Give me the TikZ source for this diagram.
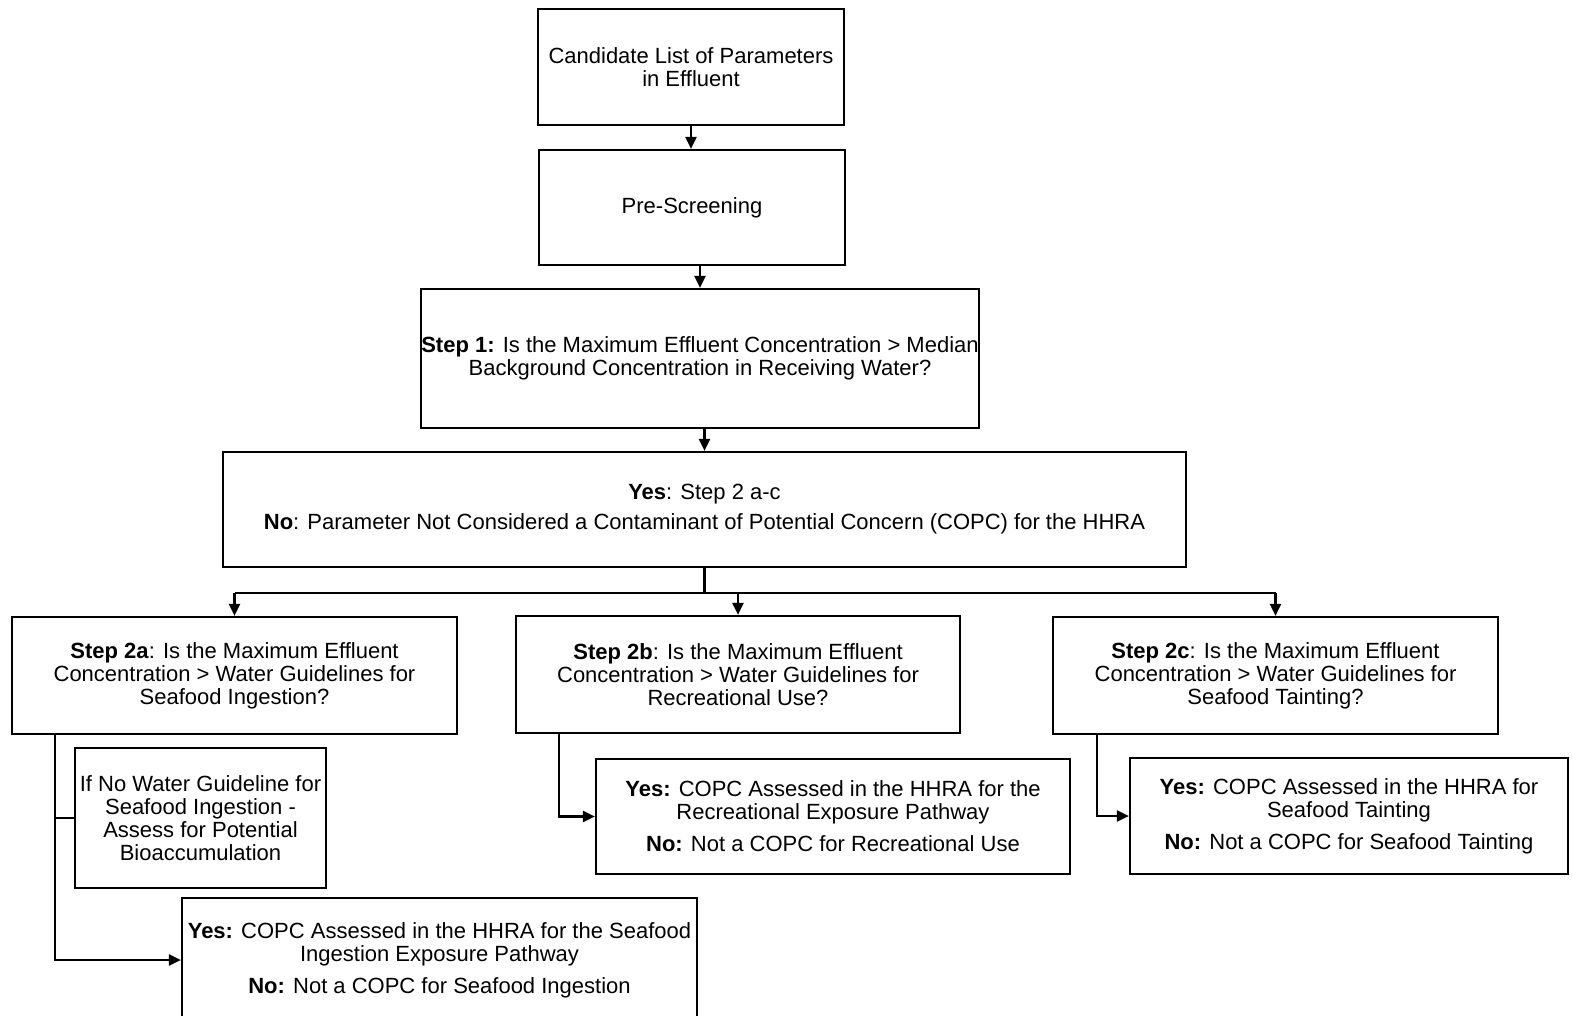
\documentclass[tikz,border=0pt]{standalone}
\usepackage{fontspec}
\setmainfont{Liberation Sans}
\usetikzlibrary{arrows.meta,calc,positioning}

\tikzset{
  box/.style={draw,line width=2.2pt,align=center,inner sep=0pt,font=\fontsize{22}{23}\selectfont},
  flow/.style={line width=2.2pt,-{Triangle[length=12pt,width=11pt]}},
  link/.style={line width=2.2pt}
}

\begin{document}
\begin{tikzpicture}[x=1pt,y=-1pt]
            \useasboundingbox(0,0)rectangle(1572,1016);
            % top chain
            \node[box,minimum width=306pt,minimum height=116pt](cand) at (691,67){Candidate List of Parameters\\in Effluent};
            \node[box,minimum width=306pt,minimum height=115pt](pre) at (692,207.5){Pre-Screening};
            \node[box,minimum width=556pt,minimum height=139pt](stepone) at (700,358.5){\textbf{Step 1:} Is the Maximum Effluent Concentration > Median\\Background Concentration in Receiving Water?};
            \node[box,minimum width=963pt,minimum height=115pt](yesno) at (704.5,509.5){\textbf{Yes}: Step 2 a-c\\[7pt]\textbf{No}: Parameter Not Considered a Contaminant of Potential Concern (COPC) for the HHRA};
            % step 2 questions
            \node[box,minimum width=445pt,minimum height=117pt](stepa) at (234.5,675.5){\textbf{Step 2a}: Is the Maximum Effluent\\Concentration > Water Guidelines for\\Seafood Ingestion?};
            \node[box,minimum width=444pt,minimum height=117pt](stepb) at (738,674.5){\textbf{Step 2b}: Is the Maximum Effluent\\Concentration > Water Guidelines for\\Recreational Use?};
            \node[box,minimum width=445pt,minimum height=117pt](stepc) at (1275.5,675.5){\textbf{Step 2c}: Is the Maximum Effluent\\Concentration > Water Guidelines for\\Seafood Tainting?};
            % outcomes
            \node[box,minimum width=251pt,minimum height=140pt](ifno) at (200.5,818){If No Water Guideline for\\Seafood Ingestion -\\Assess for Potential\\Bioaccumulation};
            \node[box,minimum width=515pt,minimum height=124pt](yesa) at (439.5,960){\textbf{Yes:} COPC Assessed in the HHRA for the Seafood\\Ingestion Exposure Pathway\\[9pt]\textbf{No:} Not a COPC for Seafood Ingestion};
            \node[box,minimum width=474pt,minimum height=115pt](yesb) at (833,816.5){\textbf{Yes:} COPC Assessed in the HHRA for the\\Recreational Exposure Pathway\\[9pt]\textbf{No:} Not a COPC for Recreational Use};
            \node[box,minimum width=438pt,minimum height=116pt](yesc) at (1349,816){\textbf{Yes:} COPC Assessed in the HHRA for\\Seafood Tainting\\[9pt]\textbf{No:} Not a COPC for Seafood Tainting};
            % connectors
            \draw[flow](cand.south)--(cand.south|-pre.north);
            \draw[flow](stepone.north|-pre.south)--(stepone.north);
            \draw[flow](yesno.north|-stepone.south)--(yesno.north);
            \coordinate(split) at ($(yesno.south)+(0,25)$);
            \draw[link](yesno.south)--(split);
            \draw[link](stepa.north|-split)--(stepc.north|-split);
            \foreach \q in {stepa,stepb,stepc}
              \draw[flow](\q.north|-split)--(\q.north);
            \coordinate(downa) at ($(stepa.south west)+(44,0)$);
            \coordinate(downb) at ($(stepb.south west)+(44,0)$);
            \coordinate(downc) at ($(stepc.south west)+(45,0)$);
            \draw[flow](downa)|-(yesa.west);
            \draw[link](downa|-ifno.west)--(ifno.west);
            \draw[flow](downb)|-(yesb.west);
            \draw[flow](downc)|-(yesc.west);
        \end{tikzpicture}
\end{document}
